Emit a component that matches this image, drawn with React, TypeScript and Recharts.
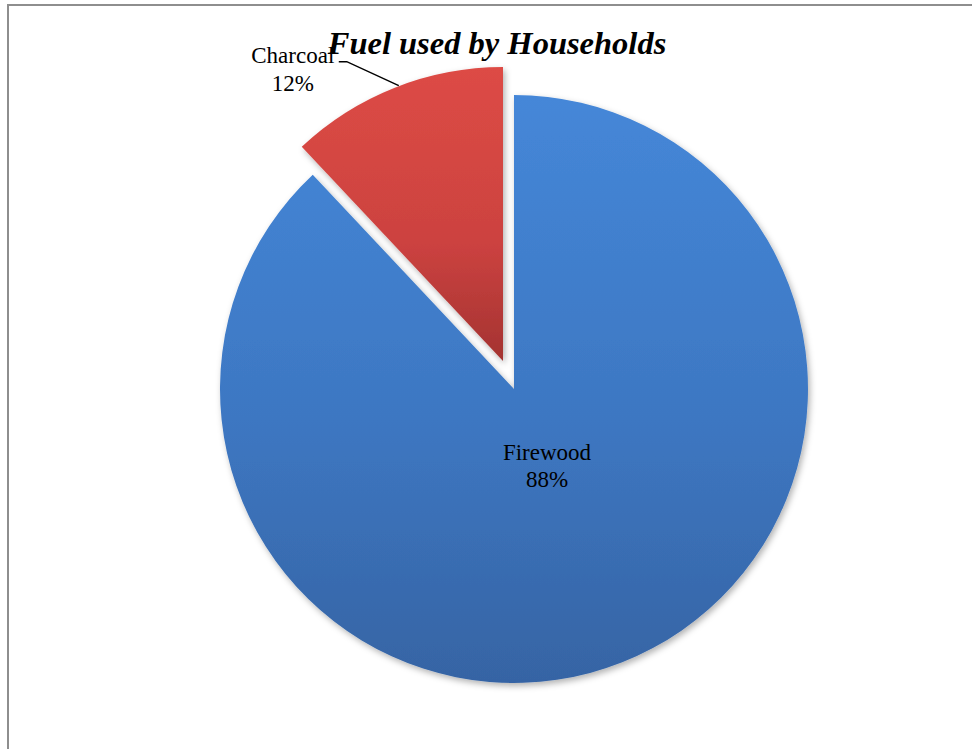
import React from "react";
import { PieChart, Pie, Cell } from "recharts";

const categories = ["Firewood", "Charcoal"];
const shares = [88, 12];
const percentLabels = ["88%", "12%"];
const title = "Fuel used by Households";

const data = categories.map((name, i) => ({ name, value: shares[i], pct: percentLabels[i] }));

const RAD = Math.PI / 180;
const FONT = "'Liberation Serif', 'Times New Roman', serif";
const labelStyle: React.CSSProperties = { fontFamily: FONT, fontSize: 23, fill: "#000" };

const firewoodLabel = (props: any) => {
  const { cx, cy, midAngle, outerRadius, index } = props;
  if (index !== 0) return null;
  const r = outerRadius * 0.305;
  const x = cx + r * Math.cos(-midAngle * RAD);
  const y = cy + r * Math.sin(-midAngle * RAD);
  return (
    <text x={x} y={y} textAnchor="middle" style={labelStyle}>
      <tspan x={x} y={y - 12} style={labelStyle}>{data[0].name}</tspan>
      <tspan x={x} y={y + 15} style={labelStyle}>{data[0].pct}</tspan>
    </text>
  );
};

const charcoalLabel = (props: any) => {
  const { cx, cy, midAngle, outerRadius, index } = props;
  if (index !== 1) return null;
  const ex = cx + outerRadius * Math.cos(-midAngle * RAD) + 4;
  const ey = cy + outerRadius * Math.sin(-midAngle * RAD) - 2;
  const tx = ex - 106;
  return (
    <g>
      <polyline
        points={`${ex},${ey} ${ex - 52},${ey - 24} ${ex - 60},${ey - 24}`}
        fill="none"
        stroke="#000"
        strokeWidth={1.5}
      />
      <text x={tx} y={ey} textAnchor="middle" style={labelStyle}>
        <tspan x={tx} y={ey - 23} style={labelStyle}>{data[1].name}</tspan>
        <tspan x={tx} y={ey + 5} style={labelStyle}>{data[1].pct}</tspan>
      </text>
    </g>
  );
};

export default function App() {
  return (
    <div style={{ position: "absolute", left: 0, top: 0, width: 972, height: 749, overflow: "hidden", background: "#fff" }}>
      <div
        style={{
          position: "absolute",
          left: 7,
          top: 4,
          width: 990,
          height: 780,
          border: "2px solid #8e8e8e",
          boxSizing: "border-box",
        }}
      />
      <div style={{ position: "absolute", left: 0, top: 0 }}>
        <PieChart width={972} height={749} margin={{ top: 0, right: 0, bottom: 0, left: 0 }}>
          <defs>
            <linearGradient id="gBlue" x1="0" y1="0" x2="0" y2="1">
              <stop offset="0%" stopColor="#4587d8" />
              <stop offset="55%" stopColor="#3d77c2" />
              <stop offset="100%" stopColor="#3664a4" />
            </linearGradient>
            <linearGradient id="gRed" x1="0" y1="0" x2="0" y2="1">
              <stop offset="0%" stopColor="#dd4b45" />
              <stop offset="60%" stopColor="#cc4240" />
              <stop offset="100%" stopColor="#a43331" />
            </linearGradient>
            <filter id="sh" x="-10%" y="-10%" width="120%" height="120%">
              <feDropShadow dx="2" dy="3" stdDeviation="3" floodColor="#000" floodOpacity="0.3" />
            </filter>
          </defs>
          <Pie
            data={data}
            dataKey="value"
            nameKey="name"
            cx={514}
            cy={389}
            outerRadius={294}
            startAngle={90}
            endAngle={-270}
            stroke="none"
            labelLine={false}
            label={firewoodLabel}
            isAnimationActive={false}
          >
            <Cell fill="url(#gBlue)" filter="url(#sh)" />
            <Cell fill="none" />
          </Pie>
          <Pie
            data={data}
            dataKey="value"
            nameKey="name"
            cx={503}
            cy={361}
            outerRadius={294}
            startAngle={90}
            endAngle={-270}
            stroke="none"
            labelLine={false}
            label={charcoalLabel}
            isAnimationActive={false}
          >
            <Cell fill="none" />
            <Cell fill="url(#gRed)" filter="url(#sh)" />
          </Pie>
          <text
            x={497}
            y={54}
            textAnchor="middle"
            style={{ fontFamily: FONT, fontSize: 32.5, fontWeight: "bold", fontStyle: "italic", fill: "#000" }}
          >
            {title}
          </text>
        </PieChart>
      </div>
    </div>
  );
}
